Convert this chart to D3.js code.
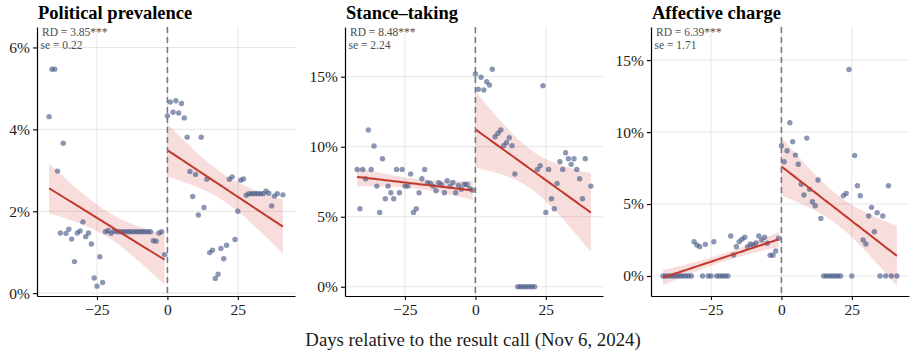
<!DOCTYPE html>
<html><head><meta charset="utf-8">
<script src="https://cdn.jsdelivr.net/npm/d3@7"></script>
<style>
body{margin:0;background:#fff}
svg{display:block}
text{font-family:"Liberation Serif","Times New Roman",serif}
</style>
</head><body>
<svg id="c" width="915" height="356"></svg>
<script>
// ---- data ----
const days = [-42,-41,-40,-39,-38,-37,-36,-35,-34,-33,-32,-31,-30,-29,-28,-27,-26,-25,-24,-23,-22,-21,-20,-19,-18,-17,-16,-15,-14,-13,-12,-11,-10,-9,-8,-7,-6,-5,-4,-3,-2,-1,
  0,1,2,3,4,5,6,7,8,9,10,11,12,13,14,15,16,17,18,19,20,21,22,23,24,25,26,27,28,29,30,31,32,33,34,35,36,37,38,39,41];

const politicalValues = [4.31,5.47,5.47,2.98,1.47,3.66,1.46,1.56,1.32,0.77,1.47,1.52,1.74,1.38,1.47,1.20,0.37,0.17,0.89,0.26,1.50,1.53,1.46,1.52,1.50,1.50,1.50,1.50,1.50,1.50,1.50,1.50,1.50,1.50,1.50,1.50,1.50,1.28,1.27,1.47,1.50,0.94,
  4.33,4.67,4.42,4.70,4.40,4.63,4.28,3.81,2.97,2.36,2.90,1.91,3.81,2.09,2.78,0.99,1.05,0.36,0.46,1.09,0.84,1.17,2.78,2.84,1.31,2.00,2.76,2.79,2.39,2.43,2.43,2.43,2.43,2.43,2.43,2.49,2.44,2.13,2.37,2.43,2.40];

const stanceValues = [8.38,5.57,8.38,7.71,11.19,8.38,10.05,7.19,5.31,9.14,6.29,7.19,6.71,6.29,8.38,6.71,8.38,7.19,7.19,8.05,5.31,5.57,6.71,7.71,8.38,7.43,7.38,7.19,6.86,7.43,7.29,6.71,7.57,7.19,7.45,6.71,7.24,6.96,7.31,7.31,7.00,6.90,
  15.19,14.10,14.96,14.05,14.64,14.41,15.53,10.71,10.96,11.19,10.07,10.29,10.64,10.07,8.05,0,0,0,0,0,0,0,8.38,8.64,14.36,5.31,8.38,6.29,5.57,7.38,8.93,8.38,9.57,9.14,8.74,9.14,8.38,7.71,6.29,9.14,7.19];

const affectiveValues = [0,0,0,0,0,0,0,0,0,0,0,2.38,2.15,2.04,0,2.20,0,0,2.38,0,0,0,0,0,2.78,1.46,2.04,2.38,2.55,2.69,2.04,2.22,2.15,2.30,2.78,2.50,2.69,2.27,1.44,1.44,1.74,2.62,
  9.05,7.94,8.70,10.65,9.33,8.40,7.76,6.37,5.63,9.58,6.02,5.16,4.88,6.67,4.00,0,0,0,0,0,0,0,5.58,5.74,14.35,0,8.38,6.27,5.58,2.50,2.22,4.17,4.77,3.08,4.40,0,4.17,0,6.27,0,0];

const panelTitles = ["Political prevalence","Stance\u2013taking","Affective charge"];
const rdLabels = ["RD = 3.85***","RD = 8.48***","RD = 6.39***"];
const seLabels = ["se = 0.22","se = 2.24","se = 1.71"];
const yTickValues = [[0,2,4,6],[0,5,10,15],[0,5,10,15]];
const xTickValues = [-25,0,25];
const xTickLabels = ["\u221225","0","25"];
const yDomains = [[-0.07,6.5],[-0.66,18.55],[-1.39,17.3]];
const xDomain = [-46.3,45.3];
const xAxisTitle = "Days relative to the result call (Nov 6, 2024)";

// ---- layout ----
const panelLeft = [37,345,651];
const panelW = 258, plotTop = 27, plotBottom = 296;
const T_CRIT = 2.02;

const svg = d3.select("#c");
const seriesList = [politicalValues, stanceValues, affectiveValues];

function ols(pts){
  const n = pts.length;
  const mx = d3.mean(pts, p=>p.x), my = d3.mean(pts, p=>p.y);
  let sxx=0, sxy=0;
  pts.forEach(p=>{sxx+=(p.x-mx)**2; sxy+=(p.x-mx)*(p.y-my);});
  const b = sxy/sxx, a = my - b*mx;
  let rss=0; pts.forEach(p=>{rss+=(p.y-a-b*p.x)**2;});
  const s = Math.sqrt(rss/(n-2));
  return {a,b,s,n,mx,sxx};
}

seriesList.forEach((vals,i)=>{
  const L = panelLeft[i];
  const x = d3.scaleLinear().domain(xDomain).range([L, L+panelW]);
  const y = d3.scaleLinear().domain(yDomains[i]).range([plotBottom, plotTop]);
  const g = svg.append("g");
  const pts = days.map((d,k)=>({x:d, y:vals[k]}));

  // grid
  g.selectAll(".hg").data(yTickValues[i]).enter().append("line")
    .attr("x1",L).attr("x2",L+panelW).attr("y1",d=>y(d)).attr("y2",d=>y(d))
    .attr("stroke","#e6e6e6").attr("stroke-width",1);
  g.selectAll(".vg").data(xTickValues).enter().append("line")
    .attr("x1",d=>x(d)).attr("x2",d=>x(d)).attr("y1",plotTop).attr("y2",plotBottom)
    .attr("stroke","#e6e6e6").attr("stroke-width",1);

  // fits
  const sides = [pts.filter(p=>p.x<0), pts.filter(p=>p.x>=0)];
  const fits = sides.map(side=>{
    const f = ols(side);
    return side.map(p=>{
      const fit = f.a + f.b*p.x;
      const se = f.s*Math.sqrt(1/f.n + (p.x-f.mx)**2/f.sxx);
      return {x:p.x, fit, lo:fit-T_CRIT*se, hi:fit+T_CRIT*se};
    });
  });

  fits.forEach(band=>{
    g.append("path").datum(band)
      .attr("d", d3.area().x(d=>x(d.x)).y0(d=>y(d.lo)).y1(d=>y(d.hi)))
      .attr("fill","#d9534f").attr("fill-opacity",0.2);
  });

  // points
  g.selectAll(".pt").data(pts).enter().append("circle")
    .attr("cx",d=>x(d.x)).attr("cy",d=>y(d.y)).attr("r",2.7)
    .attr("fill","#3d5282").attr("fill-opacity",0.6);

  fits.forEach(band=>{
    g.append("path").datum(band)
      .attr("d", d3.line().x(d=>x(d.x)).y(d=>y(d.fit)))
      .attr("fill","none").attr("stroke","#c0392b").attr("stroke-width",2);
  });

  // cutoff line
  g.append("line").attr("x1",x(0)).attr("x2",x(0)).attr("y1",plotTop).attr("y2",plotBottom)
    .attr("stroke","#7a7a7a").attr("stroke-width",1.6).attr("stroke-dasharray","6,4");

  // axes
  const ya = g.append("g").attr("transform",`translate(${L},0)`)
    .call(d3.axisLeft(y).tickValues(yTickValues[i]).tickFormat(d=>d+"%").tickSize(4).tickSizeOuter(0).tickPadding(3));
  const xa = g.append("g").attr("transform",`translate(0,${plotBottom})`)
    .call(d3.axisBottom(x).tickValues(xTickValues).tickFormat((d,j)=>xTickLabels[j]).tickSize(4).tickSizeOuter(0).tickPadding(4));
  [ya,xa].forEach(a=>{
    a.select(".domain").attr("stroke","#000").attr("stroke-width",1.2);
    a.selectAll(".tick line").attr("stroke","#000").attr("stroke-width",1.1);
    a.selectAll("text").attr("font-family","Liberation Serif, serif").attr("font-size",15.5).attr("fill","#1a1a1a");
  });

  // title and annotation
  g.append("text").attr("x",L+1).attr("y",19).attr("font-size",18.5).attr("font-weight","bold").attr("fill","#000").text(panelTitles[i]);
  g.append("text").attr("x",L+5).attr("y",36).attr("font-size",11.5).attr("fill","#4d4d4d").text(rdLabels[i]);
  g.append("text").attr("x",L+3.5).attr("y",49).attr("font-size",11.5).attr("fill","#4d4d4d").text(seLabels[i]);
});

svg.append("text").attr("x",473).attr("y",346).attr("text-anchor","middle")
  .attr("font-size",18.8).attr("fill","#1a1a1a").text(xAxisTitle);
</script>
</body></html>
